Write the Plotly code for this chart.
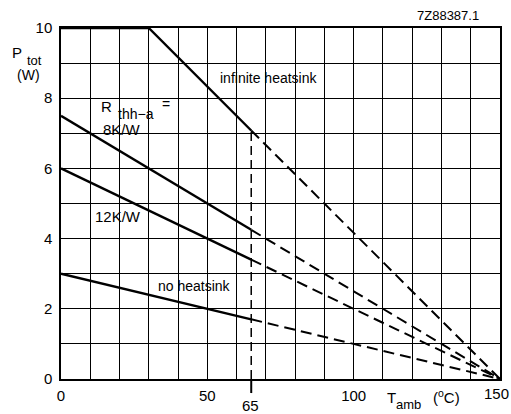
import plotly.graph_objects as go

# ---- data ----
t_amb_ticks = [0, 50, 100, 150]
p_tot_ticks = [0, 2, 4, 6, 8, 10]

inf_solid_x = [0, 30, 65]
inf_solid_y = [10, 10, 7.08]
inf_dash_x = [65, 150]
inf_dash_y = [7.08, 0]

r8_solid_x = [0, 65]
r8_solid_y = [7.5, 4.25]
r8_dash_x = [65, 150]
r8_dash_y = [4.25, 0]

r12_solid_x = [0, 65]
r12_solid_y = [6.0, 3.4]
r12_dash_x = [65, 150]
r12_dash_y = [3.4, 0]

nohs_solid_x = [0, 65]
nohs_solid_y = [3.0, 1.7]
nohs_dash_x = [65, 150]
nohs_dash_y = [1.7, 0]

t_marker = 65
t_marker_top = 7.08

FONT = "Liberation Sans, Arial, sans-serif"

fig = go.Figure()

solid = dict(color="black", width=2.4)
dashed = dict(color="black", width=2.0, dash="11px,6px")

for xs, ys, xd, yd in [
    (inf_solid_x, inf_solid_y, inf_dash_x, inf_dash_y),
    (r8_solid_x, r8_solid_y, r8_dash_x, r8_dash_y),
    (r12_solid_x, r12_solid_y, r12_dash_x, r12_dash_y),
    (nohs_solid_x, nohs_solid_y, nohs_dash_x, nohs_dash_y),
]:
    fig.add_trace(go.Scatter(x=xs, y=ys, mode="lines", line=solid,
                             showlegend=False, hoverinfo="skip"))
    fig.add_trace(go.Scatter(x=xd, y=yd, mode="lines", line=dashed,
                             showlegend=False, hoverinfo="skip"))

# vertical dashed marker at 65 degC
fig.add_shape(type="line", xref="x", yref="y", x0=t_marker, x1=t_marker,
              y0=0, y1=t_marker_top, line=dict(color="black", width=1.5, dash="9px,5px"))
fig.add_shape(type="line", xref="x", yref="paper", x0=t_marker, x1=t_marker,
              y0=0, y1=-0.04, line=dict(color="black", width=2))

x_grid = list(range(0, 151, 10))
y_grid = list(range(0, 11, 1))
x_max = max(x_grid)

fig.update_xaxes(
    range=[0, 150], tickvals=x_grid,
    # the last label (at the right edge) is drawn as an annotation so it fits the page
    ticktext=[str(v) if (v in t_amb_ticks and v != x_max) else "" for v in x_grid],
    showgrid=True, gridcolor="black", gridwidth=1.3,
    showline=True, linecolor="black", linewidth=1.5, mirror=True,
    zeroline=False, ticks="", ticklabelstandoff=2, ticklabeloverflow="allow",
    tickfont=dict(family=FONT, size=15, color="black"),
    fixedrange=True,
)
fig.update_yaxes(
    range=[0, 10], tickvals=y_grid,
    ticktext=[str(v) if v in p_tot_ticks else "" for v in y_grid],
    showgrid=True, gridcolor="black", gridwidth=1.3,
    showline=True, linecolor="black", linewidth=1.5, mirror=True,
    zeroline=False, ticks="", ticklabelstandoff=4, ticklabeloverflow="allow",
    tickfont=dict(family=FONT, size=15, color="black"),
    fixedrange=True,
)

def px(x):
    return (x - 61) / 439.0

def py(y):
    return (378.7 - y) / 351.0

ann = []
def add(text, x, y, size=14, xanchor="center"):
    ann.append(dict(text=text, x=px(x), y=py(y), xref="paper", yref="paper",
                    showarrow=False, xanchor=xanchor, yanchor="middle",
                    font=dict(family=FONT, size=size, color="black"),
                    bgcolor="rgba(0,0,0,0)", borderpad=0))

add("infinite heatsink", 269, 78, 14)
add("R", 106, 106, 15)
add("thh−a", 136, 114, 14)
add("=", 166, 104, 14)
add("8K/W", 122, 129, 15)
add("12K/W", 118, 216, 15)
add("no heatsink", 194, 286, 14)
add("7Z88387.1", 448, 15, 13)
add("65", 250, 405, 15)
add(str(x_max), 510, 393, 15, xanchor="right")
add("T", 391, 397, 15)
add("amb", 408, 404, 13)
add("(<sup>o</sup>C)", 446, 396, 15)
add("P", 17, 52, 15)
add("tot", 34, 60, 13)
add("(W)", 28, 75, 14)

fig.update_layout(
    width=511, height=414,
    margin=dict(l=61, r=11, t=28, b=35, autoexpand=False),
    paper_bgcolor="white", plot_bgcolor="white",
    annotations=ann, showlegend=False,
)

fig.write_html("out.html", config={"displayModeBar": False},
               post_script="document.body.style.margin='0';document.body.style.padding='0';")
